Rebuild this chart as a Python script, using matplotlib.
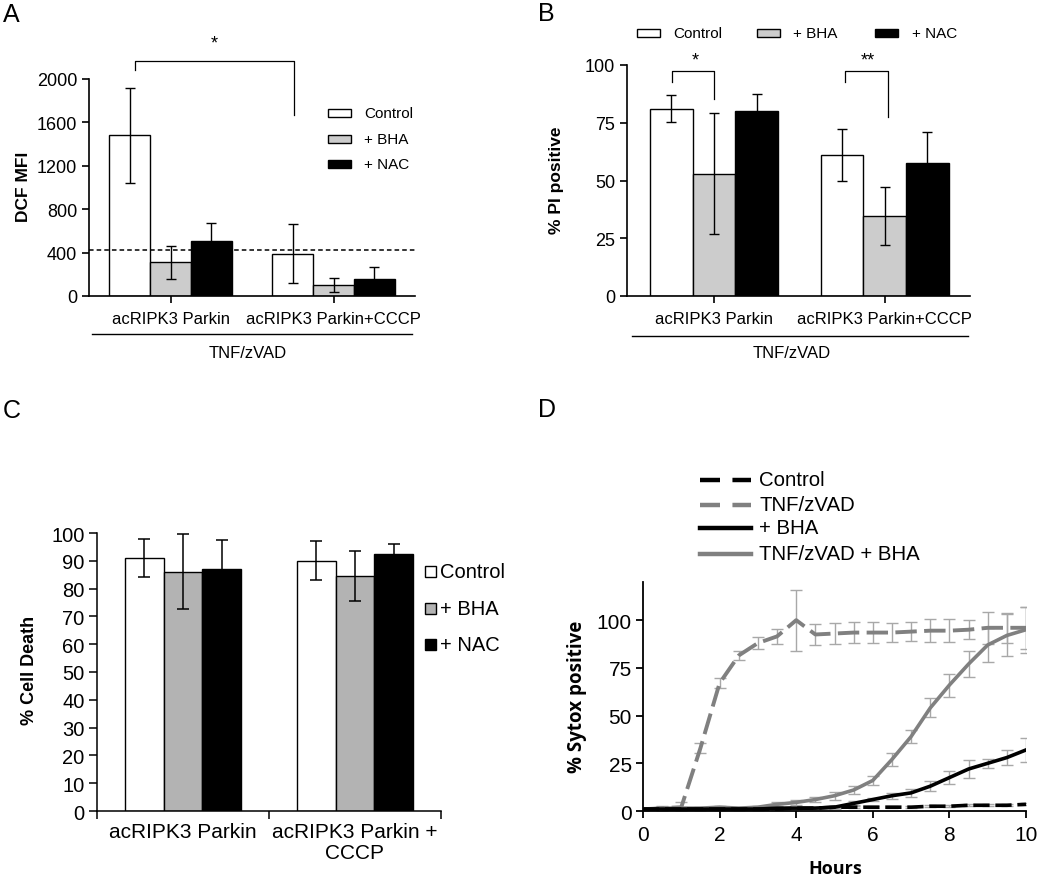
import matplotlib
matplotlib.use("Agg")
import matplotlib.pyplot as plt
from matplotlib.patches import Rectangle
from matplotlib.lines import Line2D

plt.rcParams['font.family'] = ['Liberation Sans', 'DejaVu Sans']

# ---------------- data ----------------
groups = ["acRIPK3 Parkin", "acRIPK3 Parkin+CCCP"]
treatments = ["Control", "+ BHA", "+ NAC"]

# Panel A (DCF MFI)
a_ctrl = [1480, 390]
a_ctrl_err = [435, 270]
a_bha = [310, 100]
a_bha_err = [155, 65]
a_nac = [505, 155]
a_nac_err = [170, 115]
a_baseline = 425

# Panel B (% PI positive)
b_ctrl = [81, 61]
b_ctrl_err = [5.8, 11.3]
b_bha = [53, 34.5]
b_bha_err = [26.3, 12.5]
b_nac = [80, 57.5]
b_nac_err = [7.5, 13.5]

# Panel C (% Cell Death)
c_groups = ["acRIPK3 Parkin", "acRIPK3 Parkin +\nCCCP"]
c_ctrl = [91, 90]
c_ctrl_err = [6.8, 7]
c_bha = [86, 84.5]
c_bha_err = [13.5, 9]
c_nac = [87, 92.5]
c_nac_err = [10.5, 3.5]

# Panel D (% Sytox positive over time)
hours = [0, 0.5, 1, 1.5, 2, 2.5, 3, 3.5, 4, 4.5, 5, 5.5, 6, 6.5, 7, 7.5, 8, 8.5, 9, 9.5, 10]
d_control = [1, 1, 1, 1, 1, 1, 1, 1, 1.5, 1.5, 2, 2, 2, 2, 2, 2.5, 2.5, 3, 3, 3, 3.5]
d_control_err = [0.3, 0.3, 0.3, 0.3, 0.3, 0.3, 0.3, 0.3, 0.4, 0.4, 0.5, 0.5, 0.5, 0.5, 0.5, 0.5, 0.5, 0.5, 0.6, 0.6, 0.6]
d_tnf = [0.5, 1.5, 2, 33, 67, 81.5, 88, 91.5, 100, 92.5, 93, 93.5, 93.5, 93.5, 94, 94.5, 94.5, 95, 96, 96, 96]
d_tnf_err = [0.5, 1, 2.5, 2.5, 2.5, 2.5, 3, 4, 16, 5.5, 5.5, 5.5, 5.5, 5, 5, 6, 6, 5, 8.5, 8, 11]
d_bha = [1, 1, 1, 1, 1, 1, 1, 1.5, 1.5, 1.5, 2, 4, 6, 8, 9.5, 13, 17.5, 22, 25, 28, 32]
d_bha_err = [0.5, 0.5, 0.5, 0.5, 0.5, 0.5, 0.5, 0.5, 0.5, 0.5, 0.8, 1, 1, 1.5, 2, 2.5, 3.5, 4.5, 2.5, 4, 6.5]
d_tnf_bha = [1, 1.5, 1.5, 1.5, 2, 1.5, 2, 3.5, 4.5, 6, 8, 11, 16, 27, 39, 54, 66, 77, 87, 92, 95]
d_tnf_bha_err = [0.5, 0.5, 0.5, 0.5, 0.5, 0.5, 0.5, 1, 1.5, 1.5, 2, 2, 2.5, 3.5, 3.5, 5, 6, 7, 9, 11, 12]
d_labels = ["Control", "TNF/zVAD", "+ BHA", "TNF/zVAD + BHA"]

# ---------------- figure helpers ----------------
W, H = 1050, 879
fig = plt.figure(figsize=(W / 100, H / 100), dpi=100)


def ax_px(l, t, r, b):
    return fig.add_axes([l / W, 1 - b / H, (r - l) / W, (b - t) / H])


def ftext(x, y, s, **kw):
    kw.setdefault('ha', 'center')
    kw.setdefault('va', 'center')
    fig.text(x / W, 1 - y / H, s, **kw)


def fline(x0, y0, x1, y1, **kw):
    fig.add_artist(Line2D([x0 / W, x1 / W], [1 - y0 / H, 1 - y1 / H],
                          transform=fig.transFigure, **kw))


def fbox(x, y, w, h, fc, lw=1.0):
    fig.add_artist(Rectangle((x / W, 1 - (y + h) / H), w / W, h / H,
                             transform=fig.transFigure, facecolor=fc,
                             edgecolor='black', linewidth=lw))


def style_axes(ax, lw=1.2, labelsize=13):
    for s in ['top', 'right']:
        ax.spines[s].set_visible(False)
    for s in ['left', 'bottom']:
        ax.spines[s].set_linewidth(lw)
    ax.tick_params(direction='out', width=lw, length=5, labelsize=labelsize)


GRAY_AB = '#cccccc'
GRAY_C = '#b3b3b3'

# ---------------- Panel A ----------------
axA = ax_px(89, 80, 415, 297)
style_axes(axA)
w = 0.25
xs = [0, 1]
ek = dict(ecolor='black', capsize=3.6, error_kw=dict(elinewidth=1.0, capthick=1.0))
axA.bar([x - w for x in xs], a_ctrl, w, color='white', edgecolor='black', linewidth=1.0, yerr=a_ctrl_err, **ek)
axA.bar(xs, a_bha, w, color=GRAY_AB, edgecolor='black', linewidth=1.0, yerr=a_bha_err, **ek)
axA.bar([x + w for x in xs], a_nac, w, color='black', edgecolor='black', linewidth=1.0, yerr=a_nac_err, **ek)
axA.axhline(a_baseline, color='black', lw=1.1, ls=(0, (3, 2)), zorder=5)
axA.set_xlim(-0.5, 1.5)
axA.set_ylim(0, 2000)
axA.set_yticks([0, 400, 800, 1200, 1600, 2000])
axA.set_xticks(xs)
axA.set_xticklabels(groups, fontsize=12)
axA.tick_params(axis='x', pad=6)
# significance bracket
axA.plot([-0.22, -0.22, 0.755, 0.755], [2083, 2166, 2166, 1668], color='black', lw=0.9, clip_on=False)
axA.text(0.27, 2330, '*', ha='center', va='center', fontsize=13)
ftext(23, 187, 'DCF MFI', rotation=90, fontsize=12.5, fontweight='bold')
fline(92, 335, 412, 335, color='black', lw=1.0)
ftext(248, 353, 'TNF/zVAD', fontsize=12)
# legend A
for i, (lab, fc) in enumerate(zip(treatments, ['white', GRAY_AB, 'black'])):
    y = 114 + i * 25.5
    fbox(328, y - 4, 23, 8, fc)
    ftext(364, y, lab, ha='left', fontsize=11)
ftext(11, 15, 'A', fontsize=18)

# ---------------- Panel B ----------------
axB = ax_px(627, 66, 970, 297)
style_axes(axB)
axB.bar([x - w for x in xs], b_ctrl, w, color='white', edgecolor='black', linewidth=1.0, yerr=b_ctrl_err, **ek)
axB.bar(xs, b_bha, w, color=GRAY_AB, edgecolor='black', linewidth=1.0, yerr=b_bha_err, **ek)
axB.bar([x + w for x in xs], b_nac, w, color='black', edgecolor='black', linewidth=1.0, yerr=b_nac_err, **ek)
axB.set_xlim(-0.51, 1.5)
axB.set_ylim(0, 100)
axB.set_yticks([0, 25, 50, 75, 100])
axB.set_xticks(xs)
axB.set_xticklabels(groups, fontsize=12)
axB.tick_params(axis='x', pad=6)
axB.plot([-0.246, -0.246, 0, 0], [92.6, 97.4, 97.4, 85.3], color='black', lw=0.9, clip_on=False)
axB.text(-0.11, 102.3, '*', ha='center', va='center', fontsize=13)
axB.plot([0.77, 0.77, 1.02, 1.02], [92.6, 97.4, 97.4, 77.5], color='black', lw=0.9, clip_on=False)
axB.text(0.9, 102.3, '**', ha='center', va='center', fontsize=13)
ftext(557, 180, '% PI positive', rotation=90, fontsize=12.5, fontweight='bold')
fline(632, 337, 968, 337, color='black', lw=1.0)
ftext(792, 353, 'TNF/zVAD', fontsize=12)
for (bx, tx, lab, fc) in [(637, 673, 'Control', 'white'), (757, 793, '+ BHA', GRAY_AB), (875, 912, '+ NAC', 'black')]:
    fbox(bx, 30, 23, 8, fc)
    ftext(tx, 34, lab, ha='left', fontsize=11)
ftext(546, 14, 'B', fontsize=18)

# ---------------- Panel C ----------------
axC = ax_px(97, 534, 441, 812)
style_axes(axC, lw=1.1, labelsize=14.5)
wc = 0.225
ekc = dict(ecolor='black', capsize=4.3, error_kw=dict(elinewidth=1.1, capthick=1.1))
axC.bar([x - wc for x in xs], c_ctrl, wc, color='white', edgecolor='black', linewidth=1.0, yerr=c_ctrl_err, **ekc)
axC.bar(xs, c_bha, wc, color=GRAY_C, edgecolor='black', linewidth=1.0, yerr=c_bha_err, **ekc)
axC.bar([x + wc for x in xs], c_nac, wc, color='black', edgecolor='black', linewidth=1.0, yerr=c_nac_err, **ekc)
axC.set_xlim(-0.5, 1.5)
axC.set_ylim(0, 100)
axC.set_yticks(range(0, 101, 10))
axC.set_xticks([-0.5, 0.5, 1.5])
axC.set_xticklabels([])
axC.set_xticks(xs, minor=True)
axC.set_xticklabels(c_groups, minor=True, fontsize=15, linespacing=1.1)
axC.tick_params(axis='x', which='minor', length=0, pad=8)
axC.tick_params(axis='both', which='major', length=6)
axC.tick_params(axis='y', pad=3)
ftext(30, 670, '% Cell Death', rotation=90, fontsize=13, fontweight='bold')
for i, (lab, fc) in enumerate(zip(treatments, ['white', GRAY_C, 'black'])):
    y = 573 + i * 36.5
    fbox(425, y - 6, 11, 11, fc)
    ftext(440, y, lab, ha='left', fontsize=14.5)
ftext(12, 411, 'C', fontsize=18)

# ---------------- Panel D ----------------
axD = ax_px(643, 583, 1026, 812)
style_axes(axD, lw=1.3, labelsize=15)
ecol = '#a8a8a8'
for ys, es in [(d_control, d_control_err), (d_tnf, d_tnf_err), (d_bha, d_bha_err), (d_tnf_bha, d_tnf_bha_err)]:
    axD.errorbar(hours, ys, yerr=es, fmt='none', ecolor=ecol, elinewidth=1.0, capsize=4.2, capthick=1.0, zorder=2)
axD.plot(hours, d_control, color='black', lw=2.6, ls=(0, (4.5, 1.6)), zorder=4, label=d_labels[0])
axD.plot(hours, d_tnf, color='#808080', lw=2.8, ls=(0, (5.5, 1.9)), zorder=3, label=d_labels[1])
axD.plot(hours, d_bha, color='black', lw=2.6, zorder=4, label=d_labels[2])
axD.plot(hours, d_tnf_bha, color='#808080', lw=2.6, zorder=3, label=d_labels[3])
axD.set_xlim(0, 10)
axD.set_ylim(0, 120)
axD.set_yticks([0, 25, 50, 75, 100])
axD.set_xticks([0, 2, 4, 6, 8, 10])
axD.tick_params(axis='x', pad=5)
axD.tick_params(axis='y', pad=3)
ftext(577, 697, '% Sytox positive', rotation=90, fontsize=13.5, fontweight='bold', family=['Open Sans', 'DejaVu Sans'])
ftext(835, 869, 'Hours', fontsize=13, fontweight='bold', family=['Open Sans', 'DejaVu Sans'])
# legend D
leg_styles = [('black', (0, (4.5, 2.8))), ('#808080', (0, (4.5, 2.8))), ('black', '-'), ('#808080', '-')]
for i, (lab, (col, ls)) in enumerate(zip(d_labels, leg_styles)):
    y = [481, 506, 529, 555][i]
    fline(700, y, 751, y, color=col, lw=3.2, ls=ls)
    ftext(759, y, lab, ha='left', fontsize=14.7)
ftext(547, 410, 'D', fontsize=18)

fig.savefig('out.png', dpi=100)
